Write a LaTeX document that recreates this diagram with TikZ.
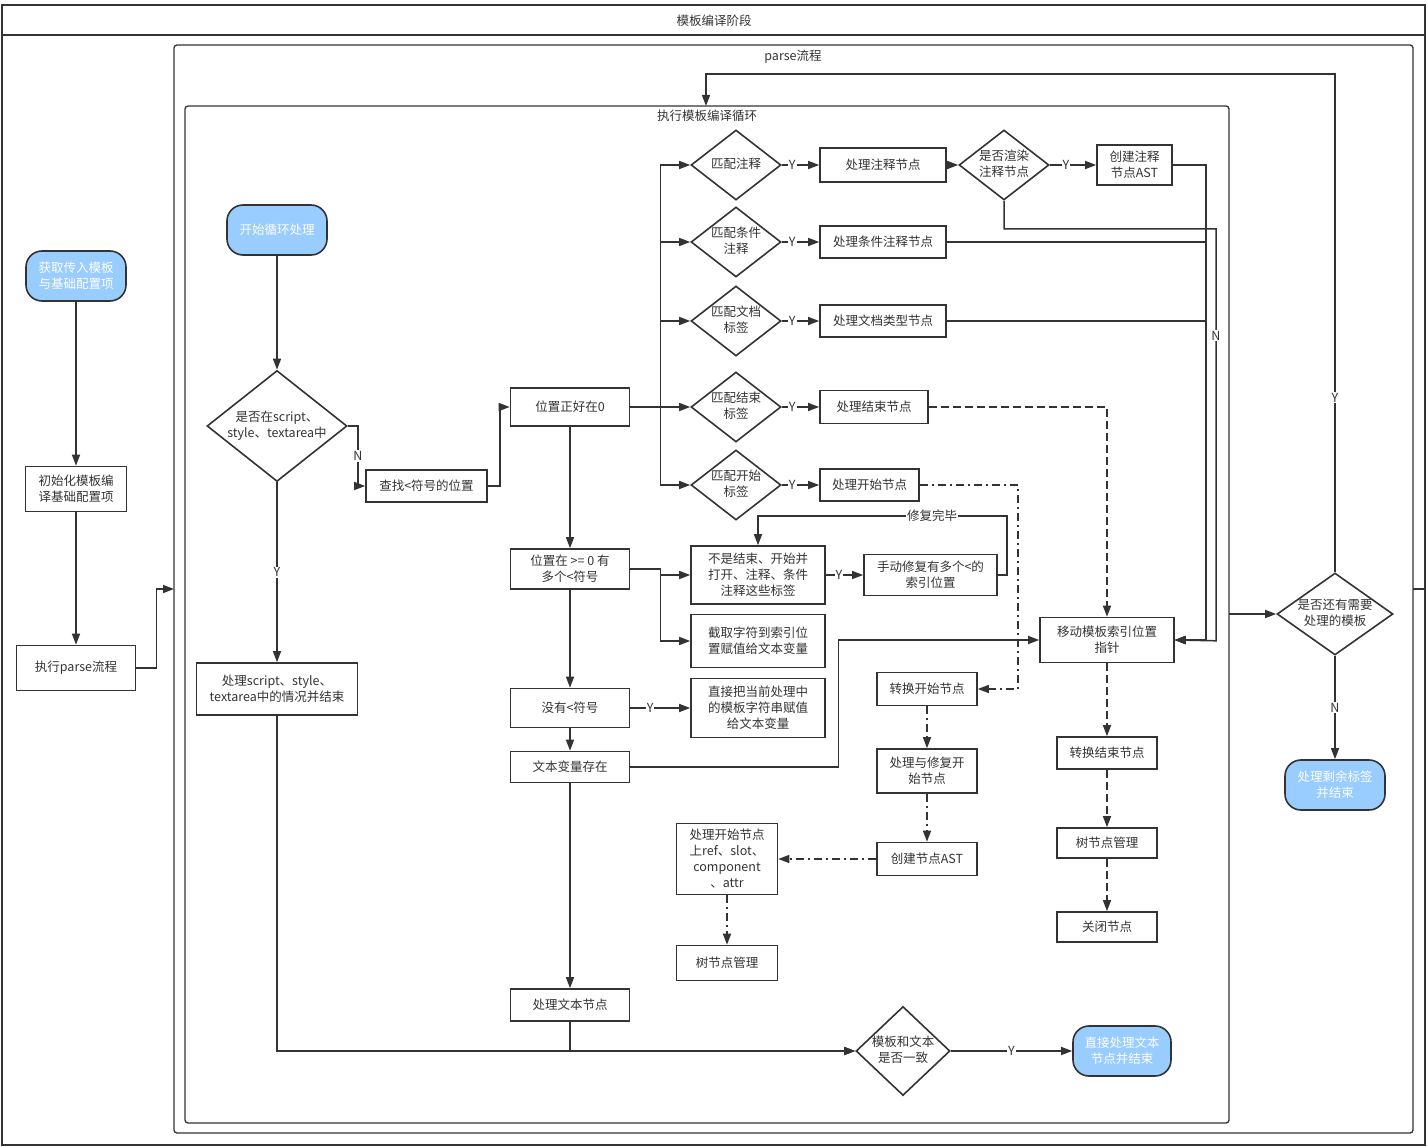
\documentclass[tikz,border=0pt]{standalone}
\usepackage{fontspec}
\setmainfont{Noto Sans CJK SC}
\usetikzlibrary{arrows.meta}
\usetikzlibrary{shapes.geometric}
\usetikzlibrary{positioning}

\definecolor{linegray}{HTML}{333333}
\definecolor{startblue}{HTML}{99CCFF}
\newcommand{\dtext}[1]{\makebox[0pt]{\begin{tabular}{@{}c@{}}#1\end{tabular}}}

\begin{document}
\begin{tikzpicture}[x=1pt,y=-1pt,color=linegray,
  font=\fontsize{12.5}{16}\selectfont,
  box/.style={draw,rectangle,line width=1.6pt,align=center,inner sep=0pt},
  judge/.style={draw,diamond,line width=1.6pt,inner sep=0pt},
  term/.style={draw,rectangle,rounded corners=16pt,fill=startblue,text=white,line width=1.6pt,align=center,inner sep=0pt,minimum width=100,minimum height=50},
  arr/.style={line width=1.5pt,-{Triangle[length=11pt,width=8pt]}},
  endarr/.style={arr,dash pattern=on 8pt off 4pt},
  dotarr/.style={arr,dash pattern=on 8pt off 4pt on 2pt off 4pt},
  lab/.style={fill=white,inner sep=1pt},
  frame/.style={line width=1.3pt,rounded corners=3pt}]
\useasboundingbox (0,0) rectangle (1428,1147);

% frames
\draw[line width=2pt] (2,5) rectangle (1425,1145);
\draw[line width=2pt] (2,35) -- (1425,35);
\node (stage) at (714,21) {模板编译阶段};
\draw[frame] (174,45) rectangle (1413,1133);
\node (parsettl) at (793,57) {parse流程};
\draw[frame] (185,106) rectangle (1229,1123);
\node (loopttl) at (707,116) {执行模板编译循环};
\coordinate (parsein) at (174,589);
\coordinate (parseout) at (1413,589);
\coordinate (loopin) at (706,106);
\coordinate (loopout) at (1229,614);

% left column
\node[term] (get) at (76,276) {获取传入模板\\与基础配置项};
\node[box,minimum width=101,minimum height=45] (init) at (76,489) {初始化模板编\\译基础配置项};
\node[box,minimum width=119,minimum height=45] (run) at (76,668) {执行parse流程};

% loop start
\node[term] (start) at (277,230) {开始循环处理};
\node[judge,minimum width=140,minimum height=111] (inq) at (277,426) {\dtext{是否在script、\\style、textarea中}};
\node[box,minimum width=121,minimum height=32] (find) at (426.5,486) {查找<符号的位置};
\node[box,minimum width=161,minimum height=52] (inproc) at (277,689) {处理script、style、\\textarea中的情况并结束};

% position column
\node[box,minimum width=119,minimum height=38] (zero) at (570,407) {位置正好在0};
\node[box,minimum width=119,minimum height=40] (multi) at (570,569) {位置在 >= 0 有\\多个<符号};
\node[box,minimum width=119,minimum height=39] (nosym) at (570,708) {没有<符号};
\node[box,minimum width=119,minimum height=31] (textvar) at (570,767) {文本变量存在};
\node[box,minimum width=119,minimum height=32] (textnode) at (570,1005) {处理文本节点};

% match diamonds
\node[judge,minimum width=90,minimum height=70] (m1) at (736,165) {\dtext{匹配注释}};
\node[judge,minimum width=90,minimum height=70] (m2) at (736,242) {\dtext{匹配条件\\注释}};
\node[judge,minimum width=90,minimum height=70] (m3) at (736,321) {\dtext{匹配文档\\标签}};
\node[judge,minimum width=90,minimum height=70] (m4) at (736,407) {\dtext{匹配结束\\标签}};
\node[judge,minimum width=90,minimum height=70] (m5) at (736,485) {\dtext{匹配开始\\标签}};

\node[box,minimum width=126,minimum height=34] (p1) at (883,165) {处理注释节点};
\node[box,minimum width=126,minimum height=32] (p2) at (883,242) {处理条件注释节点};
\node[box,minimum width=126,minimum height=32] (p3) at (883,321) {处理文档类型节点};
\node[box,minimum width=108,minimum height=33] (p4) at (874,407) {处理结束节点};
\node[box,minimum width=99,minimum height=32] (p5) at (869.5,485) {处理开始节点};

\node[judge,minimum width=90,minimum height=70] (dr) at (1004,165) {\dtext{是否渲染\\注释节点}};
\node[box,minimum width=75,minimum height=40] (ca) at (1134.5,165) {创建注释\\节点AST};

% multiple < symbols
\node[box,minimum width=134,minimum height=58] (notend) at (758,575) {不是结束、开始并\\打开、注释、条件\\注释这些标签};
\node[box,minimum width=133,minimum height=41] (fix) at (930.5,575) {手动修复有多个<的\\索引位置};
\node[box,minimum width=134,minimum height=53] (cut) at (758,641) {截取字符到索引位\\置赋值给文本变量};
\node[box,minimum width=134,minimum height=59] (direct) at (758,708) {直接把当前处理中\\的模板字符串赋值\\给文本变量};

\node[box,minimum width=134,minimum height=45] (move) at (1107,640) {移动模板索引位置\\指针};

% start tag branch
\node[box,minimum width=100,minimum height=33] (ts) at (927,689) {转换开始节点};
\node[box,minimum width=100,minimum height=44] (fixs) at (927,771) {处理与修复开\\始节点};
\node[box,minimum width=100,minimum height=33] (cast) at (927,859) {创建节点AST};
\node[box,minimum width=101,minimum height=71] (attr) at (727,859) {处理开始节点\\上ref、slot、\\component\\、attr};
\node[box,minimum width=101,minimum height=35] (tree1) at (727,963) {树节点管理};

% end tag branch
\node[box,minimum width=100,minimum height=32] (te) at (1107,753) {转换结束节点};
\node[box,minimum width=100,minimum height=30] (tree2) at (1107,843) {树节点管理};
\node[box,minimum width=100,minimum height=30] (close) at (1107,927) {关闭节点};

\node[judge,minimum width=94,minimum height=89] (same) at (903,1051) {\dtext{模板和文本\\是否一致}};
\node[term,minimum width=98] (direct2) at (1122,1051) {直接处理文本\\节点并结束};

\node[judge,minimum width=116,minimum height=82] (q) at (1335,614) {\dtext{是否还有需要\\处理的模板}};
\node[term] (rest) at (1335,785) {处理剩余标签\\并结束};

% connectors
\draw[arr] (get.south) -- (init.north);
\draw[arr] (init.south) -- (run.north);
\draw[arr] (run.east) -- ++(20,0) |- (parsein);
\draw[line width=1.5pt] (parseout) -- ++(12,0);

\draw[arr] (start.south) -- (inq.north);
\draw[arr] (inq.east) -- ++(10,0) |- node[lab,pos=.25]{N} (find.west);
\draw[arr] (inq.south) -- node[lab]{Y} (inproc.north);
\draw[arr] (inproc.south) |- (same.west);
\draw[arr] (find.east) -- ++(12,0) |- (zero.west);

\draw[arr] (zero.east) -- ++(30,0) |- (m1.west);
\draw[arr] (zero.east) -- ++(30,0) |- (m2.west);
\draw[arr] (zero.east) -- ++(30,0) |- (m3.west);
\draw[arr] (zero.east) -- (m4.west);
\draw[arr] (zero.east) -- ++(30,0) |- (m5.west);
\draw[arr] (m1.east) -- node[lab,pos=.28]{Y} (p1.west);
\draw[arr] (m2.east) -- node[lab,pos=.28]{Y} (p2.west);
\draw[arr] (m3.east) -- node[lab,pos=.28]{Y} (p3.west);
\draw[arr] (m4.east) -- node[lab,pos=.28]{Y} (p4.west);
\draw[arr] (m5.east) -- node[lab,pos=.28]{Y} (p5.west);

\draw[arr] (p1.east) -- (dr.west);
\draw[arr] (dr.east) -- node[lab,pos=.35]{Y} (ca.west);
\draw[arr] (ca.east) -- ++(33,0) |- (move.east);
\draw[arr] (dr.south) -- ++(0,28) -- ++(212,0) -- node[lab,pos=.26]{N} ++(0,412) -- (move.east);
\draw[arr] (p2.east) -- ++(259,0) |- (move.east);
\draw[arr] (p3.east) -- ++(259,0) |- (move.east);
\draw[endarr] (p4.east) -| (move.north);
\draw[dotarr] (p5.east) -- ++(98,0) |- (ts.east);

\draw[arr] (zero.south) -- (multi.north);
\draw[arr] (multi.east) -- ++(30,0) |- (notend.west);
\draw[arr] (multi.east) -- ++(30,0) |- (cut.west);
\draw[arr] (notend.east) -- node[lab,pos=.35]{Y} (fix.west);
\draw[arr] (fix.east) -- ++(9,0) -- ++(0,-59) -| node[lab,pos=.15]{修复完毕} (notend.north);
\draw[arr] (multi.south) -- (nosym.north);
\draw[arr] (nosym.east) -- node[lab,pos=.33]{Y} (direct.west);
\draw[arr] (nosym.south) -- (textvar.north);
\draw[arr] (textvar.east) -- ++(208,0) |- (move.west);
\draw[arr] (textvar.south) -- (textnode.north);
\draw[arr] (textnode.south) |- (same.west);
\draw[arr] (same.east) -- node[lab]{Y} (direct2.west);

\draw[dotarr] (ts.south) -- (fixs.north);
\draw[dotarr] (fixs.south) -- (cast.north);
\draw[dotarr] (cast.west) -- (attr.east);
\draw[dotarr] (attr.south) -- (tree1.north);

\draw[endarr] (move.south) -- (te.north);
\draw[endarr] (te.south) -- (tree2.north);
\draw[endarr] (tree2.south) -- (close.north);

\draw[arr] (loopout) -- (q.west);
\draw[arr] (q.north) -- node[lab,pos=.35]{Y} ++(0,-498) -| (loopin);
\draw[arr] (q.south) -- node[lab]{N} (rest.north);

\end{tikzpicture}
\end{document}
